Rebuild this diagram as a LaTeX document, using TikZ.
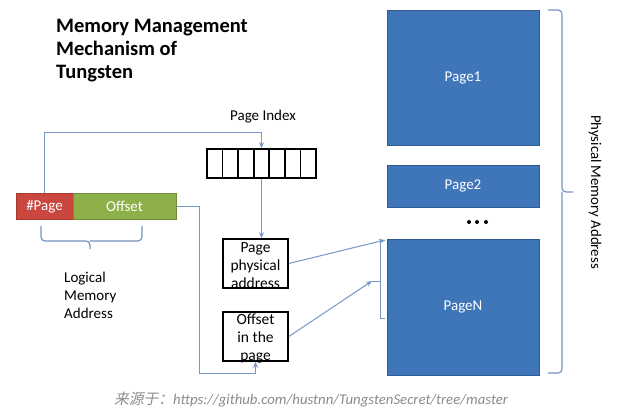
\documentclass[tikz,border=0pt]{standalone}
\usepackage{fontspec}
\setmainfont{Carlito}
\newfontfamily\cjkfont[FakeSlant=0.2]{Noto Sans CJK SC}
\usetikzlibrary{arrows.meta}
\definecolor{pgblue}{HTML}{3F76BA}
\definecolor{pgborder}{HTML}{2F5B94}
\definecolor{pgred}{HTML}{C9473E}
\definecolor{pgredb}{HTML}{A8392F}
\definecolor{pggreen}{HTML}{8DB04A}
\definecolor{pggreenb}{HTML}{6F8E36}
\definecolor{conncol}{HTML}{7396CC}
\definecolor{footcol}{HTML}{8C8C8C}
\tikzset{
  pagebox/.style={draw=pgborder, line width=1pt, fill=pgblue, text=white, font=\fontsize{15}{18}\selectfont, inner sep=0pt},
  barbox/.style={line width=1pt, text=white, font=\fontsize{15}{18}\selectfont, inner sep=0pt, minimum height=26pt},
  blackbox/.style={draw=black, line width=1.6pt, inner sep=0pt, minimum width=65pt, minimum height=49pt},
  boxtext/.style={align=center, font=\fontsize{15.5}{18}\selectfont, inner sep=0pt},
  lbl/.style={font=\fontsize{15}{18}\selectfont, inner sep=0pt},
  conn/.style={draw=conncol, line width=1pt, -{Stealth[length=6pt,width=5pt]}},
  plain/.style={draw=conncol, line width=1pt},
  brc/.style={draw=conncol!85!gray, line width=1.2pt, rounded corners=4pt},
}
\begin{document}
\begin{tikzpicture}[x=1pt,y=-1pt]
\useasboundingbox (0,0) rectangle (621,415);
\fill[white] (0,0) rectangle (621,415);

% title
\node[anchor=north west, align=left, inner sep=0pt, font=\bfseries\fontsize{20.5}{23}\selectfont] (title) at (56,19) {Memory Management\\Mechanism of\\Tungsten};

% physical pages
\node[pagebox, minimum width=152pt, minimum height=135pt] (p1) at (463,77.5) {Page1};
\node[pagebox, minimum width=152pt, minimum height=42pt] (p2) at (463,186) {Page2};
\node[pagebox, minimum width=152pt, minimum height=136pt] (pN) at (463,307) {PageN};
\foreach \xx in {469,477,486} \fill[black] (\xx,222) circle (2pt);

% right brace
\draw[brc] (548,10) -| (562,192) -- (573,192);
\draw[brc] (548,373) -| (562,192);
\node[lbl, rotate=-90, font=\fontsize{14.8}{17}\selectfont] (pma) at (595,192) {Physical Memory Address};

% logical address bar
\node[barbox, draw=pgredb, fill=pgred, minimum width=57pt] (pnum) at (44.5,206.5) {\#Page};
\node[barbox, draw=pggreenb, fill=pggreen, minimum width=103pt] (off) at (124.5,206.5) {Offset};

% lower brace
\draw[brc] (41,226) |- (90,241) -- (90,249);
\draw[brc] (142,226) |- (90,241);
\node[lbl, anchor=north west, align=left, font=\fontsize{15}{18}\selectfont] (lma) at (64,272) {Logical\\Memory\\Address};

% page index array
\node[lbl] (pil) at (263,117) {Page Index};
\node[draw=black, line width=1.6pt, minimum width=109pt, minimum height=29pt, inner sep=0pt] (arr) at (261.5,163.5) {};
\foreach \i in {1,...,6} \draw[black, line width=1.6pt] (207+\i*15.57,149) -- (207+\i*15.57,178);

% boxes
\node[blackbox] (ppa) at (255.5,263.5) {};
\node[boxtext] at (255.5,266) {Page\\physical\\address};
\node[blackbox] (oip) at (255.5,336.5) {};
\node[boxtext] at (255.5,338.5) {Offset\\in the\\page};

% connectors
\draw[conn] (pnum.north) |- ([yshift=16pt]arr.north) -- (arr.north);
\draw[conn] (arr.south) -- (arr.south |- ppa.north);
\coordinate (c2) at (199,373);
\draw[conn] (off.east) -| (c2) -| (oip.south);
\coordinate (brt) at (385,240);
\coordinate (brm) at (372,281);
\draw[plain] (brt) -| (380,318) -- (385,318);
\draw[plain] (brm) -- (380,281);
\draw[conn] (ppa.east) -- (brt);
\draw[conn] (oip.east) -- (brm);

% footer
\node[inner sep=0pt, text=footcol, font=\itshape\fontsize{14.8}{17}\selectfont] (foot) at (311,400) {{\cjkfont 来源于：}https://github.com/hustnn/TungstenSecret/tree/master};
\end{tikzpicture}
\end{document}
